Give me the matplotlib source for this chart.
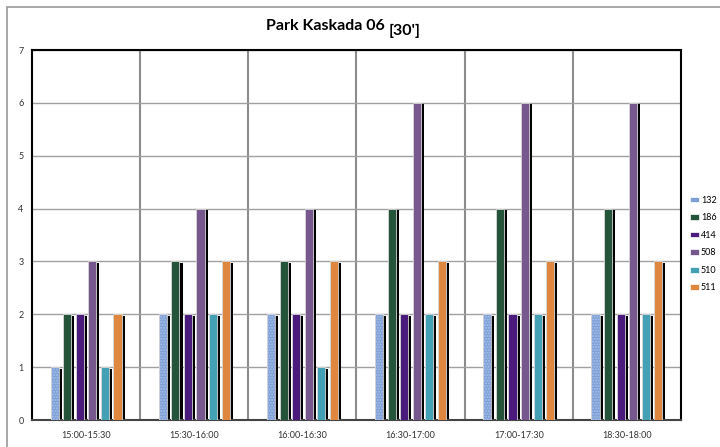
import numpy as np
import matplotlib.pyplot as plt
from matplotlib.patches import Rectangle

plt.rcParams['font.family'] = ['Lato', 'DejaVu Sans']

periods = ["15:00-15:30", "15:30-16:00", "16:00-16:30", "16:30-17:00", "17:00-17:30", "18:30-18:00"]
series = ["132", "186", "414", "508", "510", "511"]
v132 = [1, 2, 2, 2, 2, 2]
v186 = [2, 3, 3, 4, 4, 4]
v414 = [2, 2, 2, 2, 2, 2]
v508 = [3, 4, 4, 6, 6, 6]
v510 = [1, 2, 1, 2, 2, 2]
v511 = [2, 3, 3, 3, 3, 3]
values = [v132, v186, v414, v508, v510, v511]
colors = ["#7d9fd6", "#24553a", "#4a1a7c", "#76588f", "#43a0b5", "#e0873f"]

fig = plt.figure(figsize=(7.2, 4.47), dpi=100)
ax = fig.add_axes([32/720, 1 - 420/447, 649/720, 370/447])

# outer chart border (only left/top visible)
fig.patches.append(Rectangle((7/720, -0.1), 1.2, 1.1 - 7/447, transform=fig.transFigure,
                             fill=False, edgecolor="#999999", lw=1.2))

x = np.arange(len(periods))
step = 0.116
w = 0.075
handles = []
for i, (vals, c) in enumerate(zip(values, colors)):
    xs = x + (i - 2.5) * step
    vals = np.array(vals, dtype=float)
    # shadow
    ax.bar(xs + 0.028, vals - 0.03, width=w, color="black", zorder=2)
    if i == 0:
        ax.bar(xs, vals, width=w, color=c, edgecolor="#aac2ea", hatch="......", lw=0, zorder=3)
        ax.bar(xs, vals, width=w, color="none", edgecolor="#d8d8d8", lw=0.6, zorder=4)
    else:
        ax.bar(xs, vals, width=w, color=c, edgecolor="#d8d8d8", lw=0.6, zorder=3)
    handles.append(Rectangle((0, 0), 1, 1, facecolor=c, edgecolor="white", lw=0.5))

ax.set_xlim(-0.5, len(periods) - 0.5)
ax.set_ylim(0, 7)
ax.set_yticks(range(8))
ax.set_xticks(x)
ax.set_xticklabels(periods, fontsize=6.5, color="#333333")
ax.tick_params(axis="y", labelsize=6.5, colors="#333333", length=0, pad=6)
ax.tick_params(axis="x", length=0, pad=8)
ax.grid(axis="y", color="#a0a0a0", lw=1, zorder=0)
for b in np.arange(0.5, len(periods) - 0.5, 1):
    ax.axvline(b, color="#8c8c8c", lw=1.5, zorder=0)
for s in ["left", "top", "right"]:
    ax.spines[s].set_color("black")
    ax.spines[s].set_linewidth(1.5)
ax.spines["bottom"].set_color("#444444")
ax.spines["bottom"].set_linewidth(1.5)

# title: main part plus lowered, larger "[30']"
fig.text(385/720, 1 - 30/447, "Park Kaskada 06", ha="right", va="baseline", fontsize=11.5, fontweight="bold")
fig.text(389/720, 1 - 35/447, "[30']", ha="left", va="baseline", fontsize=11.5, fontweight="bold")

fig.legend(handles, series, loc="center left", bbox_to_anchor=(690/720, 1 - 244/447), frameon=False,
           fontsize=6.5, handlelength=1.0, handleheight=0.6, handletextpad=0.2, labelspacing=0.95,
           borderaxespad=0, borderpad=0)

fig.savefig("out.png", dpi=100)
